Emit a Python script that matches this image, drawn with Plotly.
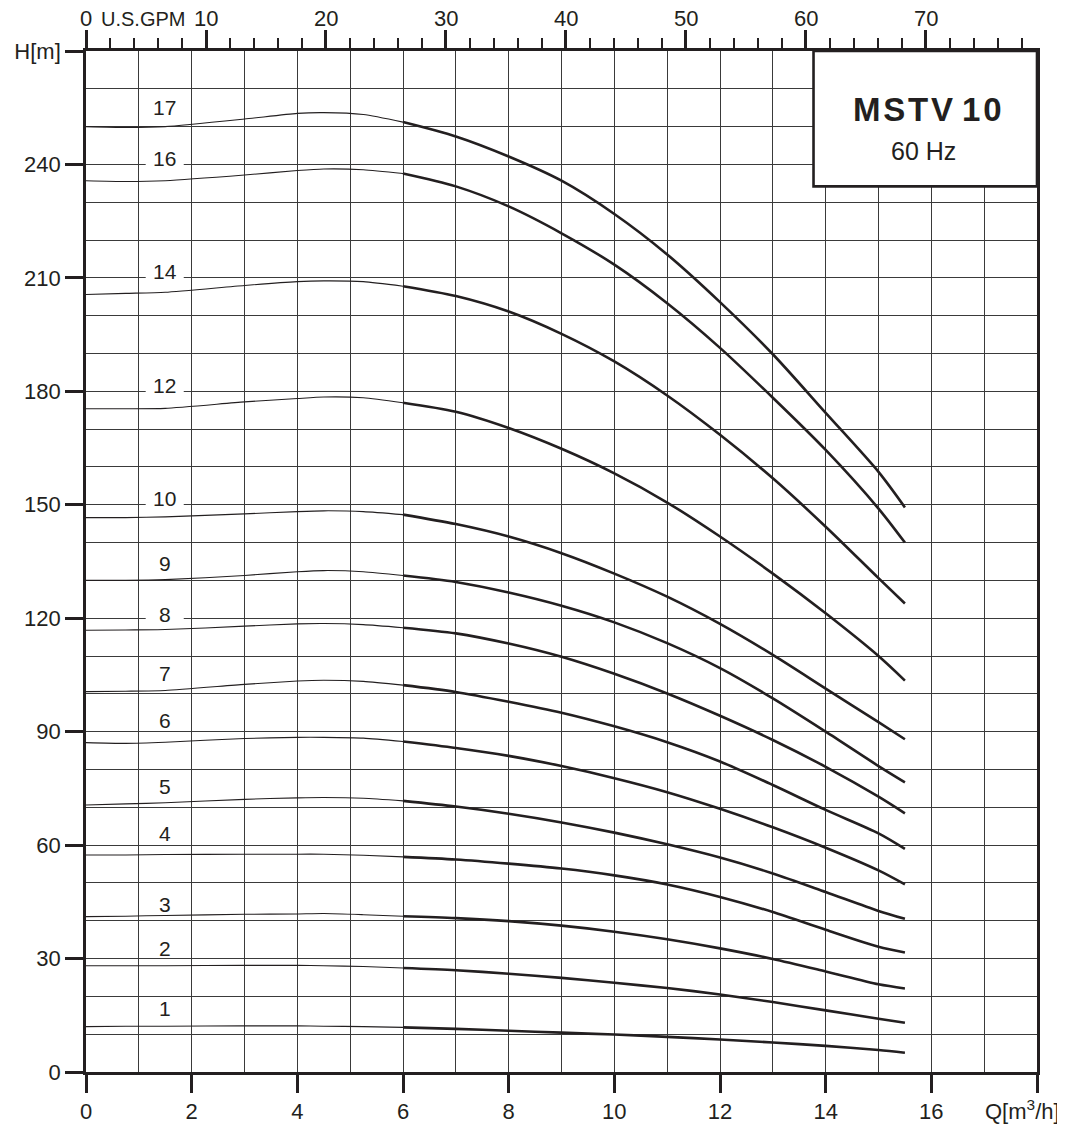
import plotly.graph_objects as go

# ---------------- data ----------------
Q_LOW = [0, 0.75, 1.5, 3, 4, 4.5, 5.25, 6]
Q_HIGH = [6, 7, 8, 9, 10, 11, 12, 13, 14, 15, 15.5]

h17_low = [250, 249.8, 250, 252, 253.5, 253.7, 253.2, 251.2]
h17_high = [251.2, 247.4, 242.1, 235.7, 226.9, 216.2, 203.6, 189.8, 174.3, 158.7, 149.3]
h16_low = [235.7, 235.5, 235.7, 237.2, 238.4, 238.8, 238.6, 237.6]
h16_high = [237.6, 234.2, 228.9, 221.8, 213.5, 203.3, 191.5, 178.3, 164.5, 149.0, 140.0]
h14_low = [205.6, 205.9, 206.2, 208.0, 209.0, 209.2, 209.0, 207.8]
h14_high = [207.8, 205.2, 201.1, 195.2, 187.9, 178.9, 168.5, 157.0, 144.2, 130.6, 123.9]
h12_low = [175.4, 175.4, 175.5, 177.2, 178.1, 178.5, 178.3, 177.0]
h12_high = [177.0, 174.6, 170.3, 164.8, 158.3, 150.6, 141.6, 131.8, 121.3, 110.0, 103.5]
h10_low = [146.6, 146.6, 146.8, 147.6, 148.2, 148.4, 148.2, 147.4]
h10_high = [147.4, 144.9, 141.6, 137.2, 131.8, 125.7, 118.5, 110.3, 101.4, 92.5, 88.0]
h9_low = [130.0, 130.0, 130.2, 131.3, 132.3, 132.6, 132.3, 131.3]
h9_high = [131.3, 129.6, 126.8, 123.3, 118.9, 113.4, 106.8, 98.8, 90.0, 80.9, 76.6]
h8_low = [116.8, 116.9, 117.0, 117.9, 118.5, 118.6, 118.3, 117.5]
h8_high = [117.5, 116.0, 113.3, 109.8, 105.3, 100.1, 94.2, 87.8, 80.7, 72.8, 68.4]
h7_low = [100.6, 100.7, 100.9, 102.5, 103.4, 103.6, 103.3, 102.3]
h7_high = [102.3, 100.5, 97.9, 95.0, 91.4, 87.2, 82.1, 75.9, 69.3, 63.1, 59.0]
h6_low = [87.1, 86.9, 87.2, 88.2, 88.5, 88.5, 88.3, 87.4]
h6_high = [87.4, 85.7, 83.6, 80.9, 77.7, 74.0, 69.6, 64.7, 59.3, 53.3, 49.6]
h5_low = [70.6, 70.9, 71.2, 72.1, 72.5, 72.6, 72.4, 71.7]
h5_high = [71.7, 70.2, 68.3, 66.0, 63.3, 60.2, 56.7, 52.5, 47.6, 42.6, 40.5]
h4_low = [57.4, 57.4, 57.5, 57.6, 57.6, 57.6, 57.3, 56.9]
h4_high = [56.9, 56.2, 55.1, 53.8, 52.0, 49.6, 46.3, 42.3, 37.6, 33.1, 31.6]
h3_low = [41.1, 41.2, 41.4, 41.7, 41.8, 41.9, 41.6, 41.2]
h3_high = [41.2, 40.7, 39.9, 38.7, 37.1, 35.1, 32.7, 29.9, 26.6, 23.2, 22.1]
h2_low = [28.1, 28.1, 28.1, 28.2, 28.2, 28.1, 27.9, 27.5]
h2_high = [27.5, 26.9, 26.0, 24.9, 23.6, 22.2, 20.5, 18.5, 16.3, 14.1, 13.0]
h1_low = [12.0, 12.1, 12.1, 12.2, 12.2, 12.1, 12.0, 11.8]
h1_high = [11.8, 11.4, 10.9, 10.4, 9.9, 9.3, 8.6, 7.8, 6.9, 5.8, 5.1]

STAGES = ["17", "16", "14", "12", "10", "9", "8", "7", "6", "5", "4", "3", "2", "1"]
LABEL_H = [255.0, 241.6, 211.7, 181.6, 151.6, 134.4, 120.9, 105.3, 93.0, 75.6, 63.2, 44.3, 32.6, 16.7]
LABEL_ON_GRID = [False, True, True, True, True, False, True, False, False, False, False, False, False, False]

X_TICKS = [0, 2, 4, 6, 8, 10, 12, 14, 16, 18]
X_TICK_TEXT = ["0", "2", "4", "6", "8", "10", "12", "14", "16", ""]
Y_TICKS = [0, 30, 60, 90, 120, 150, 180, 210, 240, 270]
Y_TICK_TEXT = ["0", "30", "60", "90", "120", "150", "180", "210", "240", "H[m]"]
GPM_TICKS = [0, 10, 20, 30, 40, 50, 60, 70]
GPM_TICK_TEXT = ["0", "10", "20", "30", "40", "50", "60", "70"]
GPM_PER_M3H = 4.40287

curves = [
    (h17_low, h17_high), (h16_low, h16_high), (h14_low, h14_high), (h12_low, h12_high),
    (h10_low, h10_high), (h9_low, h9_high), (h8_low, h8_high), (h7_low, h7_high),
    (h6_low, h6_high), (h5_low, h5_high), (h4_low, h4_high), (h3_low, h3_high),
    (h2_low, h2_high), (h1_low, h1_high),
]

INK = "#231f20"
GRID = "#3a3a3a"
FONT = "Liberation Sans, Arial, sans-serif"

fig = go.Figure()
for low, high in curves:
    fig.add_trace(go.Scatter(x=Q_LOW, y=low, mode="lines", line=dict(color=INK, width=1.1, shape="spline", smoothing=0.6),
                             hoverinfo="skip", showlegend=False))
    fig.add_trace(go.Scatter(x=Q_HIGH, y=high, mode="lines", line=dict(color=INK, width=2.6, shape="spline", smoothing=0.8),
                             hoverinfo="skip", showlegend=False))

# invisible trace on top (GPM) axis
fig.add_trace(go.Scatter(x=[0, 18 * GPM_PER_M3H], y=[0, 0], xaxis="x2", mode="lines",
                         line=dict(width=0), opacity=0, hoverinfo="skip", showlegend=False))

shapes = []
annotations = []
for name, hy, on_grid in zip(STAGES, LABEL_H, LABEL_ON_GRID):
    if on_grid:
        g = round(hy / 10) * 10
        shapes.append(dict(type="rect", xref="x", yref="y", x0=1.13, x1=1.85, y0=g - 1.2, y1=g + 1.2,
                           fillcolor="white", line=dict(width=0), layer="between"))
    annotations.append(dict(x=1.49, y=hy, xref="x", yref="y", text=name, showarrow=False,
                            font=dict(family=FONT, size=21, color=INK), xanchor="center", yanchor="middle"))

# top (GPM) tick labels
for gv, gt in zip(GPM_TICKS, GPM_TICK_TEXT):
    annotations.append(dict(x=gv, y=1.0318, xref="x2", yref="paper", text=gt, showarrow=False,
                            font=dict(family=FONT, size=22, color=INK), xanchor="center", yanchor="middle",
                            borderpad=0))
annotations.append(dict(x=4.75, y=1.0318, xref="x2", yref="paper", text="U.S.GPM", showarrow=False,
                        font=dict(family=FONT, size=20, color=INK), xanchor="center", yanchor="middle",
                        borderpad=0))

# title box
shapes.append(dict(type="rect", xref="x", yref="y", x0=13.77, x1=18, y0=234.2, y1=270,
                   fillcolor="white", line=dict(color=INK, width=2.6), layer="above"))
annotations.append(dict(x=15.93, y=254.6, xref="x", yref="y", text="<b>M\u200aS\u200aT\u200aV 1\u200a0</b>", showarrow=False,
                        font=dict(family=FONT, size=33, color=INK), xanchor="center", yanchor="middle"))
annotations.append(dict(x=15.85, y=243.5, xref="x", yref="y", text="60 Hz", showarrow=False,
                        font=dict(family=FONT, size=25, color=INK), xanchor="center", yanchor="middle"))

annotations.append(dict(x=17.72, y=-0.037, xref="x", yref="paper", text="Q[m<sup>3</sup>/h]", showarrow=False,
                        font=dict(family=FONT, size=22, color=INK), xanchor="center", yanchor="middle"))

# the page body adds an 8 px offset; size the figure so the plot area lands where the reference has it
fig.update_layout(
    width=1057, height=1117,
    margin=dict(l=78, r=28, t=43, b=53, autoexpand=False),
    paper_bgcolor="white", plot_bgcolor="white",
    showlegend=False,
    font=dict(family=FONT, size=22, color=INK),
    shapes=shapes, annotations=annotations,
    xaxis=dict(range=[0, 18], tickmode="array", tickvals=X_TICKS, ticktext=X_TICK_TEXT, automargin=False,
               ticks="outside", ticklen=18, tickwidth=2.6, tickcolor=INK,
               showline=True, linewidth=2.6, linecolor=INK,
               showgrid=True, gridcolor=GRID, gridwidth=1.4, zeroline=False,
               minor=dict(dtick=1, tick0=0, showgrid=True, gridcolor=GRID, gridwidth=1.4, ticks=""),
               tickfont=dict(family=FONT, size=22, color=INK)),
    xaxis2=dict(range=[0, 18 * GPM_PER_M3H], overlaying="x", side="top", anchor="y", automargin=False,
                tickmode="array", tickvals=GPM_TICKS, showticklabels=False,
                ticks="outside", ticklen=18, tickwidth=2.6, tickcolor=INK,
                showline=True, linewidth=2.6, linecolor=INK, showgrid=False, zeroline=False,
                minor=dict(dtick=2, tick0=0, ticks="outside", ticklen=10, tickwidth=1.6, tickcolor=INK, showgrid=False)),
    yaxis=dict(range=[0, 270], tickmode="array", tickvals=Y_TICKS, ticktext=Y_TICK_TEXT, automargin=False,
               ticks="outside", ticklen=18, tickwidth=2.6, tickcolor=INK,
               showline=True, linewidth=2.6, linecolor=INK, mirror=True,
               showgrid=True, gridcolor=GRID, gridwidth=1.4, zeroline=False,
               minor=dict(dtick=10, tick0=0, showgrid=True, gridcolor=GRID, gridwidth=1.4, ticks=""),
               tickfont=dict(family=FONT, size=22, color=INK)),
)

fig.write_html("out.html")
